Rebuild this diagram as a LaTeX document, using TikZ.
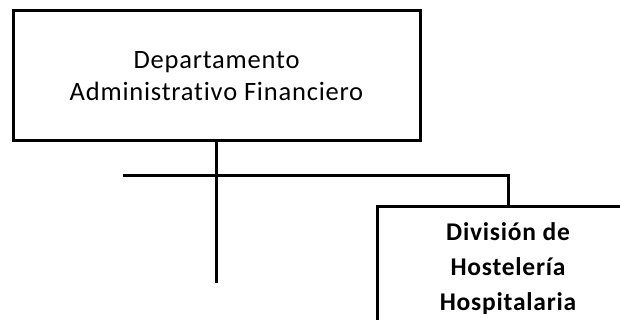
\documentclass[tikz,border=0pt]{standalone}
\usepackage{fontspec}
\setmainfont{Carlito}[LetterSpace=3,Ligatures=NoCommon]
\usetikzlibrary{positioning}

\begin{document}
\begin{tikzpicture}[x=1pt,y=-1pt, line width=3pt,
                    caja/.style={draw, rectangle, align=center, inner sep=0pt},
                    jefe/.style={caja, minimum width=407pt, minimum height=130pt, font=\fontsize{26.5}{32}\selectfont},
                    unidad/.style={caja, minimum width=262pt, minimum height=124pt, font=\bfseries\fontsize{25.5}{35}\selectfont}]
\useasboundingbox (0,0) rectangle (620,320);
\clip (0,0) rectangle (620,320);
\node[jefe] (dept) at (216.5,76) {Departamento\\Administrativo Financiero};
\node[unidad] (hosteleria) at (508,269) {División de\\Hostelería\\Hospitalaria};
% tronco y ramal
\coordinate (tronco) at (dept.south |- 0,283);
\coordinate (ramal izq) at (123,176);
\coordinate (ramal der) at (hosteleria.north |- ramal izq);
\draw (dept.south) -- (tronco);
\draw (ramal izq) -- (ramal der) -- (hosteleria.north);
\end{tikzpicture}
\end{document}
